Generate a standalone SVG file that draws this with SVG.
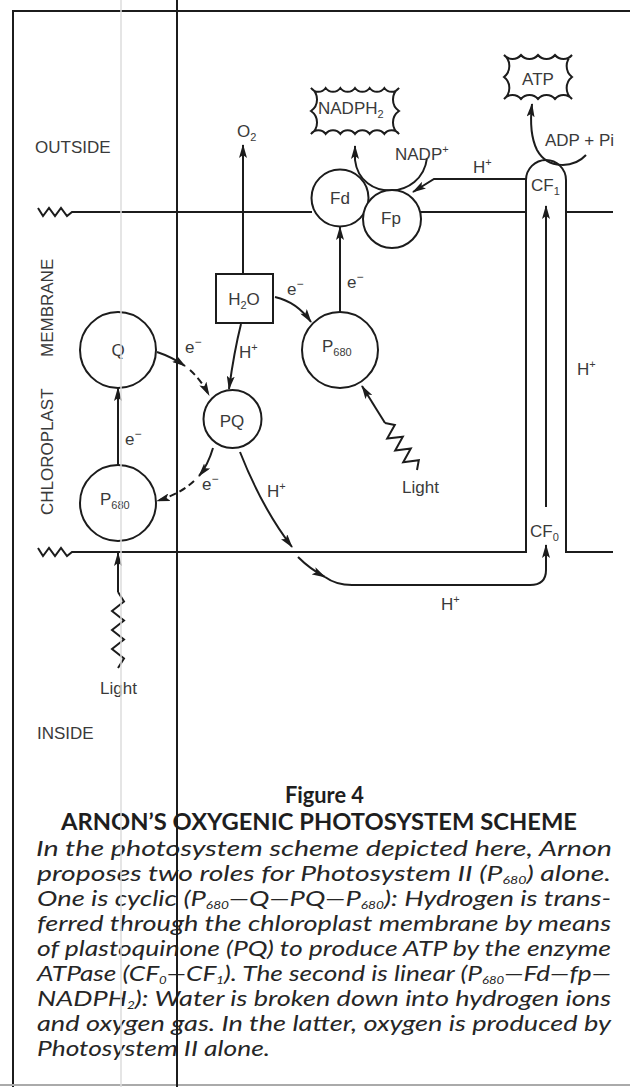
<svg xmlns="http://www.w3.org/2000/svg" width="630" height="1087" viewBox="0 0 630 1087">
<style>
.ln{fill:none;stroke:#1c1c1c;stroke-width:2}
.ar{marker-end:url(#ah)}
.dash{stroke-dasharray:7 4}
.lb{font-family:"Liberation Sans",Arial,sans-serif;font-size:17px;fill:#3a3a3a}
.node circle,.node rect,.node path{fill:#fff;stroke:#1c1c1c;stroke-width:2}
.cap{font-family:Lato,"Open Sans",sans-serif;font-style:italic;font-size:22px;fill:#262626}
.ttl{font-family:Lato,"Open Sans",sans-serif;font-weight:bold;fill:#1e1e1e}
</style>
<defs>
<marker id="ah" viewBox="0 0 14 8" refX="13" refY="4" markerWidth="14" markerHeight="8" markerUnits="userSpaceOnUse" orient="auto">
<path d="M0,0 L14,4 L0,8 L3,4 z" fill="#1c1c1c"/>
</marker>
</defs>
<rect width="630" height="1087" fill="#fff"/>
<g id="frame">
<path class="ln" d="M13,1087 V11 H630"/>
<path d="M0,1085 H630" stroke="#aaa" stroke-width="2"/>
</g>
<g id="membrane">
<path class="ln" d="M38,208 L43,216 L49,208 L55,216 L61,208 L67,216 L72,212 H312 M420,212 H526 M566,212 H613"/>
<path class="ln" d="M38,548 L43,556 L49,548 L55,556 L61,548 L67,556 L72,552 H526 V180 A20,20 0 0 1 566,180 V552 H613"/>
<text class="lb" x="35" y="153" font-size="18">OUTSIDE</text>
<text class="lb" x="37" y="739" font-size="18">INSIDE</text>
<text class="lb" font-size="18" transform="translate(53,515) rotate(-90)">CHLOROPLAST</text>
<text class="lb" font-size="18" transform="translate(53,357) rotate(-90)">MEMBRANE</text>
<text class="lb" x="531" y="191">CF<tspan font-size="11" dy="4">1</tspan></text>
<text class="lb" x="530" y="537">CF<tspan font-size="11" dy="4">0</tspan></text>
</g>
<g id="connectors">
<path class="ln ar" d="M243,274 V145"/>
<path class="ln ar" d="M340,312 V227"/>
<path class="ln ar" d="M118,465 V388"/>
<path class="ln ar" d="M546,507 V206"/>
<path class="ln ar" d="M118,592 V553"/>
<path class="ln" d="M118,592 L124,601.5 L112,611 L124,620.5 L112,630 L124,639.5 L112,649 L124,658.5 L118,668"/>
<path class="ln ar" d="M385,423 L362,386"/>
<path class="ln" d="M385,423 L394.8,425 L387.2,438.6 L402.8,436.7 L395.2,450.4 L410.8,448.5 L403.2,462.2 L418.8,460.2 L417,470"/>
<path class="ln ar" d="M241,324 Q234,352 229,389"/>
<path class="ln ar" d="M275,297 Q297,302 311,322"/>
<path class="ln ar" d="M157,352 Q172,357 185,366"/>
<path class="ln ar dash" d="M190,370 Q201,380 209,395"/>
<path class="ln ar" d="M213,448 Q208,465 199,476"/>
<path class="ln ar dash" d="M194,481 Q180,494 157,501"/>
<path class="ln ar" d="M240,452 Q262,508 292,547"/>
<path class="ln ar" d="M298,557 Q310,569 325,577"/>
<path class="ln ar" d="M325,577 Q336,585 352,585 H530 Q546,585 546,570 V545"/>
<path class="ln ar" d="M427,158 C422,200 360,202 355,160 L355,146"/>
<path class="ln ar" d="M526,179 H434 L413,192"/>
<path class="ln ar" d="M586,155 C574,168 548,170 537,150 C531,138 530,122 532,104"/>
<text class="lb" x="237" y="137">O<tspan font-size="11" dy="4">2</tspan></text>
<text class="lb" x="347" y="288">e<tspan font-size="12" dy="-7">−</tspan></text>
<text class="lb" x="185" y="353">e<tspan font-size="12" dy="-7">−</tspan></text>
<text class="lb" x="125" y="445">e<tspan font-size="12" dy="-7">−</tspan></text>
<text class="lb" x="202" y="490">e<tspan font-size="12" dy="-7">−</tspan></text>
<text class="lb" x="287" y="295">e<tspan font-size="12" dy="-7">−</tspan></text>
<text class="lb" x="239" y="358">H<tspan font-size="11" dy="-7">+</tspan></text>
<text class="lb" x="267" y="497">H<tspan font-size="11" dy="-7">+</tspan></text>
<text class="lb" x="473" y="173">H<tspan font-size="11" dy="-7">+</tspan></text>
<text class="lb" x="577" y="375">H<tspan font-size="11" dy="-7">+</tspan></text>
<text class="lb" x="441" y="610">H<tspan font-size="11" dy="-7">+</tspan></text>
<text class="lb" x="395" y="160">NADP<tspan font-size="11" dy="-7">+</tspan></text>
<text class="lb" x="545" y="146">ADP  +  Pi</text>
<text class="lb" x="100" y="694">Light</text>
<text class="lb" x="402" y="493">Light</text>
</g>
<g id="node-Q" class="node"><circle cx="118" cy="350" r="38"/><text class="lb" x="118" y="356" text-anchor="middle">Q</text></g>
<g id="node-P680-left" class="node"><circle cx="118" cy="503" r="38"/><text class="lb" x="100" y="505">P<tspan font-size="11" dy="4">680</tspan></text></g>
<g id="node-PQ" class="node"><circle cx="232.5" cy="419" r="29"/><text class="lb" x="232" y="427" text-anchor="middle">PQ</text></g>
<g id="node-H2O" class="node"><rect x="216" y="274" width="57" height="49"/><text class="lb" x="244" y="305" text-anchor="middle">H<tspan font-size="11" dy="4">2</tspan><tspan dy="-4">O</tspan></text></g>
<g id="node-P680-right" class="node"><circle cx="340" cy="350" r="38"/><text class="lb" x="322" y="352">P<tspan font-size="11" dy="4">680</tspan></text></g>
<g id="node-Fd" class="node"><circle cx="340" cy="198" r="28.5"/><text class="lb" x="340" y="204" text-anchor="middle">Fd</text></g>
<g id="node-Fp" class="node"><circle cx="392" cy="219" r="29"/><text class="lb" x="391" y="224" text-anchor="middle">Fp</text></g>
<g id="node-NADPH2" class="node"><path d="M311,88 a9,9 0 0 0 14.667,0 a9,9 0 0 0 14.667,0 a9,9 0 0 0 14.667,0 a9,9 0 0 0 14.667,0 a9,9 0 0 0 14.667,0 a9,9 0 0 0 14.667,0 a14,14 0 0 0 0,23 a14,14 0 0 0 0,23 a9,9 0 0 0 -14.667,0 a9,9 0 0 0 -14.667,0 a9,9 0 0 0 -14.667,0 a9,9 0 0 0 -14.667,0 a9,9 0 0 0 -14.667,0 a9,9 0 0 0 -14.667,0 a14,14 0 0 0 0,-23 a14,14 0 0 0 0,-23 z"/><text class="lb" x="318" y="114" font-size="18">NADPH<tspan font-size="11" dy="4">2</tspan></text></g>
<g id="node-ATP" class="node"><path d="M504,55 a11,11 0 0 0 17,0 a11,11 0 0 0 17,0 a11,11 0 0 0 17,0 a11,11 0 0 0 17,0 a14,14 0 0 0 0,22 a14,14 0 0 0 0,22 a11,11 0 0 0 -17,0 a11,11 0 0 0 -17,0 a11,11 0 0 0 -17,0 a11,11 0 0 0 -17,0 a14,14 0 0 0 0,-22 a14,14 0 0 0 0,-22 z"/><text class="lb" x="538" y="85" font-size="18" text-anchor="middle">ATP</text></g>
<g id="caption">
<text class="ttl" x="285" y="803" font-size="22" textLength="79" lengthAdjust="spacingAndGlyphs">Figure 4</text>
<text class="ttl" x="61" y="830" font-size="22" textLength="516" lengthAdjust="spacingAndGlyphs">ARNON’S OXYGENIC PHOTOSYSTEM SCHEME</text>
<text class="cap" x="36" y="856" textLength="576" lengthAdjust="spacingAndGlyphs">In the photosystem scheme depicted here, Arnon</text>
<text class="cap" x="37" y="881" textLength="574" lengthAdjust="spacingAndGlyphs">proposes two roles for Photosystem II (P<tspan font-size="11" dy="3">680</tspan><tspan dy="-3">) alone.</tspan></text>
<text class="cap" x="37" y="906" textLength="574" lengthAdjust="spacingAndGlyphs">One is cyclic (P<tspan font-size="11" dy="3">680</tspan><tspan dy="-3">—Q—PQ—P</tspan><tspan font-size="11" dy="3">680</tspan><tspan dy="-3">): Hydrogen is trans-</tspan></text>
<text class="cap" x="37" y="931" textLength="574" lengthAdjust="spacingAndGlyphs">ferred through the chloroplast membrane by means</text>
<text class="cap" x="37" y="956" textLength="574" lengthAdjust="spacingAndGlyphs">of plastoquinone (PQ) to produce ATP by the enzyme</text>
<text class="cap" x="37" y="981" textLength="574" lengthAdjust="spacingAndGlyphs">ATPase (CF<tspan font-size="11" dy="3">0</tspan><tspan dy="-3">—CF</tspan><tspan font-size="11" dy="3">1</tspan><tspan dy="-3">). The second is linear (P</tspan><tspan font-size="11" dy="3">680</tspan><tspan dy="-3">—Fd—fp—</tspan></text>
<text class="cap" x="37" y="1006" textLength="574" lengthAdjust="spacingAndGlyphs">NADPH<tspan font-size="11" dy="3">2</tspan><tspan dy="-3">): Water is broken down into hydrogen ions</tspan></text>
<text class="cap" x="37" y="1031" textLength="574" lengthAdjust="spacingAndGlyphs">and oxygen gas. In the latter, oxygen is produced by</text>
<text class="cap" x="37" y="1056" textLength="233" lengthAdjust="spacingAndGlyphs">Photosystem II alone.</text>
</g>
<g id="overlay">
<path d="M121,0 V1087" stroke="#dcdcdc" stroke-width="1.5"/>
<path class="ln" d="M177,0 V1087"/>
</g>
</svg>
